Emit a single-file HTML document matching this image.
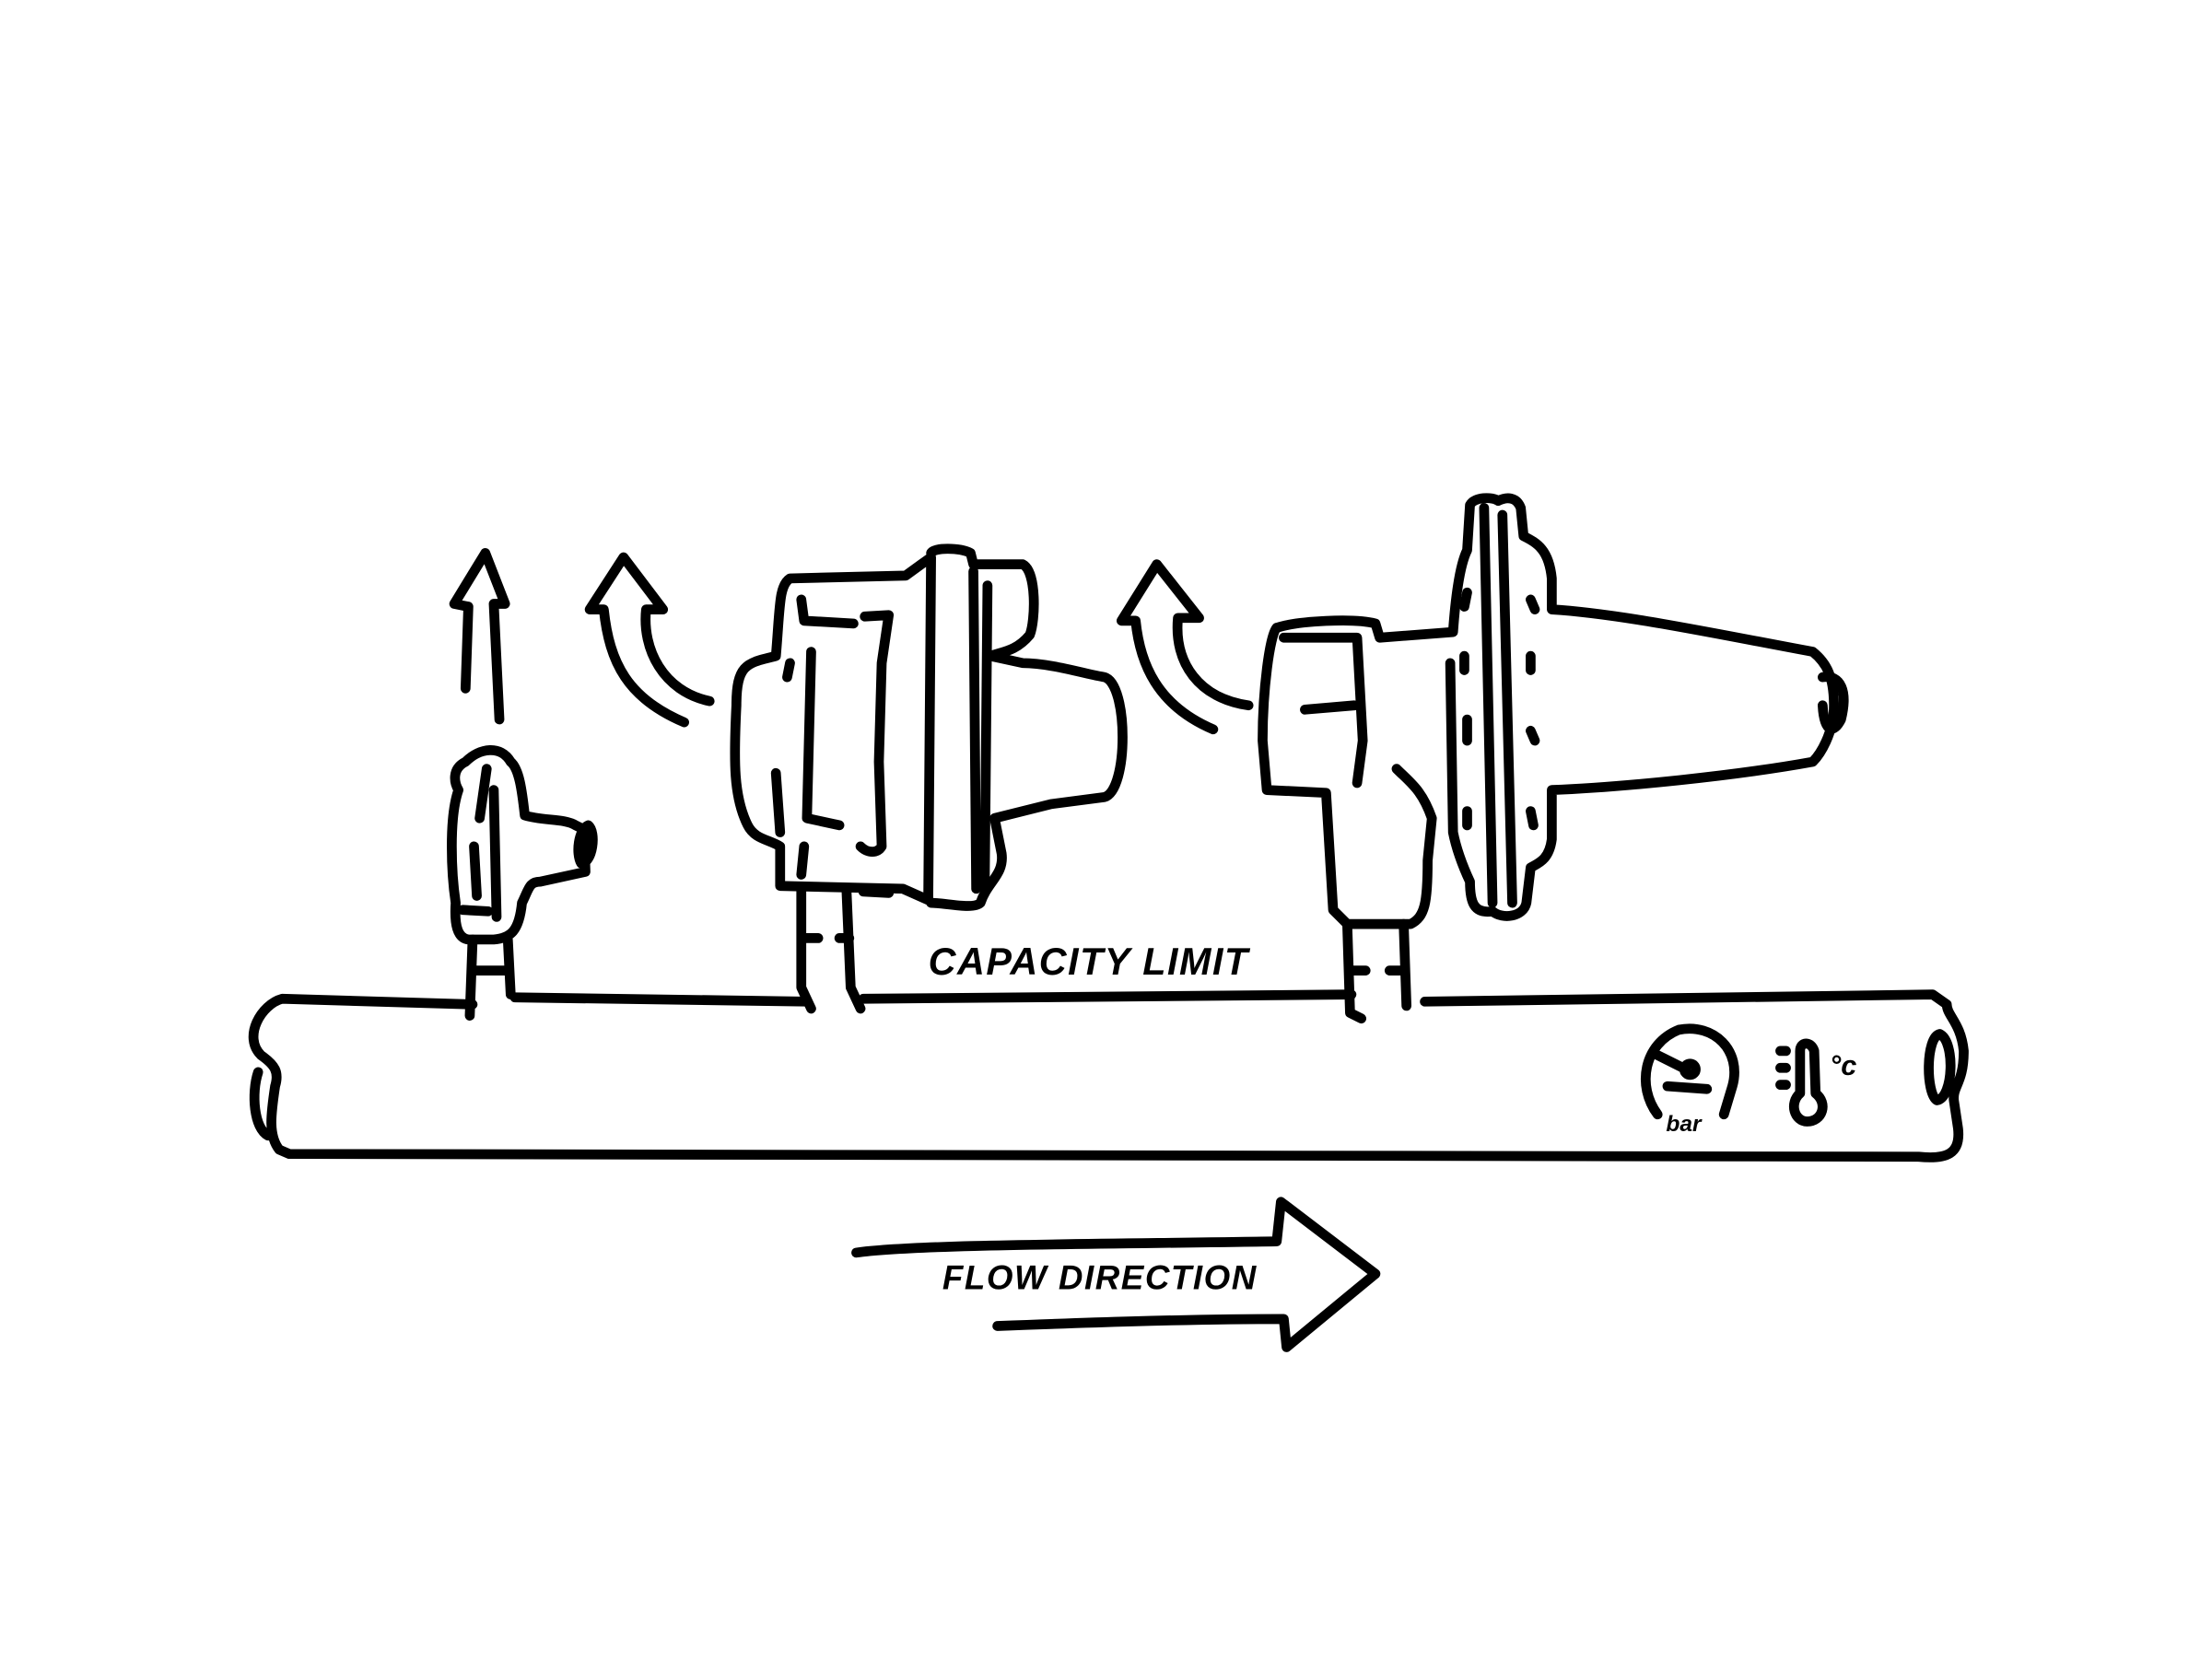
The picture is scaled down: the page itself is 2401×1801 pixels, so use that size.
<!DOCTYPE html>
<html><head><meta charset="utf-8"><style>html,body{margin:0;padding:0;background:#fff}svg{display:block}</style></head>
<body>
<svg width="2401" height="1801" viewBox="0 0 1568 1176" xmlns="http://www.w3.org/2000/svg">
<g fill="none" stroke="#000" stroke-width="7" stroke-linecap="round" stroke-linejoin="round">
<!-- pipe -->
<path d="M335 712 L200 708 C185 712 172 735 185 748 C195 755 198 760 195 770 C192 790 190 805 198 815 L205 818 L1360 820 C1380 822 1390 818 1388 800 L1385 780 C1384 770 1392 768 1392 745 C1390 725 1380 720 1380 712 L1370 705 L1010 710"/>
<path d="M958 705 L612 708"/>
<path d="M572 710 L365 707"/>
<path d="M1375 733 C1365 735 1365 775 1373 780 C1385 778 1386 738 1375 733 Z"/>
<path d="M183 760 C178 775 180 800 190 805"/>
<!-- small valve -->
<path d="M330 540 C320 545 322 555 325 560 C318 580 320 620 323 640 C322 655 324 665 332 666 L350 666 C362 665 368 660 370 640 C375 630 375 625 383 625 L415 618 L414 588 L408 585 C400 580 385 582 372 578 C370 560 368 545 362 540 C355 528 340 530 330 540 Z"/>
<path d="M345 545 L340 580 M350 560 L352 650 M336 600 L338 635 M328 645 L346 646"/>
<path d="M417 585 C410 588 408 605 412 612 C420 612 423 590 417 585 Z"/>
<path d="M335 666 L333 720 M360 666 L362 705 M336 688 L358 688"/>
<!-- straight arrow -->
<path d="M330 488 L332 430 L322 428 L344 392 L358 428 L350 428 L354 510"/>
<!-- curved arrows -->
<path d="M485 512 C445 495 432 470 428 432 L418 432 L442 395 L470 432 L458 432 C455 460 470 490 503 497"/>
<path d="M860 517 C820 500 808 470 805 440 L795 440 L820 400 L850 438 L835 438 C832 470 850 495 885 500"/>
<!-- middle device -->
<path d="M550 465 C530 470 522 470 522 500 C520 540 520 565 530 585 C535 595 545 595 553 600 L553 628 L640 630 L658 638 L660 395 L653 400 L642 408 L560 410 C552 415 553 430 550 465 Z"/>
<path d="M568 425 L570 440 L605 442 M613 437 L630 436 L625 470 L623 540 L625 600 C622 605 615 605 610 600"/>
<path d="M575 462 L572 580 L595 585"/>
<path d="M550 548 L553 590 M560 470 L558 480"/>
<path d="M660 392 C662 388 680 388 688 392 L690 400 L725 400 C735 405 734 440 730 450 C720 462 710 462 702 465 L725 470 C745 470 770 478 783 480 C800 485 800 560 783 565 L745 570 L705 580 L710 605 C712 620 700 625 695 640 C690 645 670 640 660 640"/>
<path d="M690 405 L692 630 M700 415 L698 630"/>
<path d="M570 600 L568 620 M568 630 L568 700 L575 715 M600 630 L603 700 L610 715 M570 665 L580 665 M595 665 L602 665"/>
<path d="M612 632 L630 633"/>
<!-- right device -->
<path d="M905 445 C900 450 895 490 895 525 L898 560 L940 562 L945 645 L955 655 L1000 655 C1010 650 1012 640 1012 610 L1015 580 C1008 560 1000 555 990 545"/>
<path d="M905 445 C920 440 960 438 975 442 L978 452 L1030 448 C1032 420 1035 400 1040 390 L1042 358 C1045 352 1058 352 1062 355 C1068 352 1075 352 1078 360 L1080 380 C1090 385 1098 390 1100 410 L1100 432 C1150 435 1220 450 1285 462 C1295 470 1300 480 1300 500 C1300 520 1290 535 1285 540 C1230 550 1150 558 1100 560 L1100 595 C1098 610 1090 612 1085 615 L1082 640 C1080 650 1065 652 1058 646 C1045 648 1042 640 1042 625 C1035 610 1032 600 1030 590 L1028 470"/>
<path d="M910 452 L962 452 L966 525 L962 555 M925 503 L960 500"/>
<path d="M1052 360 L1058 640 M1065 365 L1072 640"/>
<path d="M1040 420 L1038 430 M1038 465 L1038 475 M1040 510 L1040 525 M1040 575 L1040 585 M1085 425 L1088 432 M1085 465 L1085 475 M1085 518 L1088 525 M1085 575 L1087 585"/>
<path d="M1292 480 C1305 478 1310 490 1305 510 C1300 520 1293 520 1292 500"/>
<path d="M955 655 L957 718 L965 722 M995 655 L997 713 M957 688 L968 688 M985 688 L995 688"/>
<!-- flow arrow -->
<path d="M607 888 C650 882 780 882 905 880 L908 852 L975 903 L912 955 L910 935 C840 935 760 938 707 940"/>
<!-- gauge -->
<path d="M1175 790 C1160 770 1165 740 1190 730 C1215 725 1235 745 1228 770 L1222 790"/>
<path d="M1175 748 L1195 758 M1182 770 L1210 772"/>
<circle cx="1198" cy="758" r="4"/>
<!-- thermometer -->
<path d="M1276 745 C1276 738 1284 738 1286 745 L1287 775 C1296 782 1292 795 1281 795 C1272 795 1268 782 1276 775 Z"/>
<path d="M1262 745 L1266 745 M1262 757 L1266 757 M1262 769 L1266 769"/>
</g>
<g font-family="Liberation Sans, sans-serif" font-weight="bold" font-style="italic" fill="#000">
<text x="658" y="691" font-size="27" letter-spacing="1">CAPACITY LIMIT</text>
<text x="668" y="914" font-size="24" letter-spacing="1">FLOW DIRECTION</text>
<text x="1181" y="802" font-size="16">bar</text>
<text x="1297" y="762" font-size="20">°c</text>
</g>
</svg>
</body></html>
